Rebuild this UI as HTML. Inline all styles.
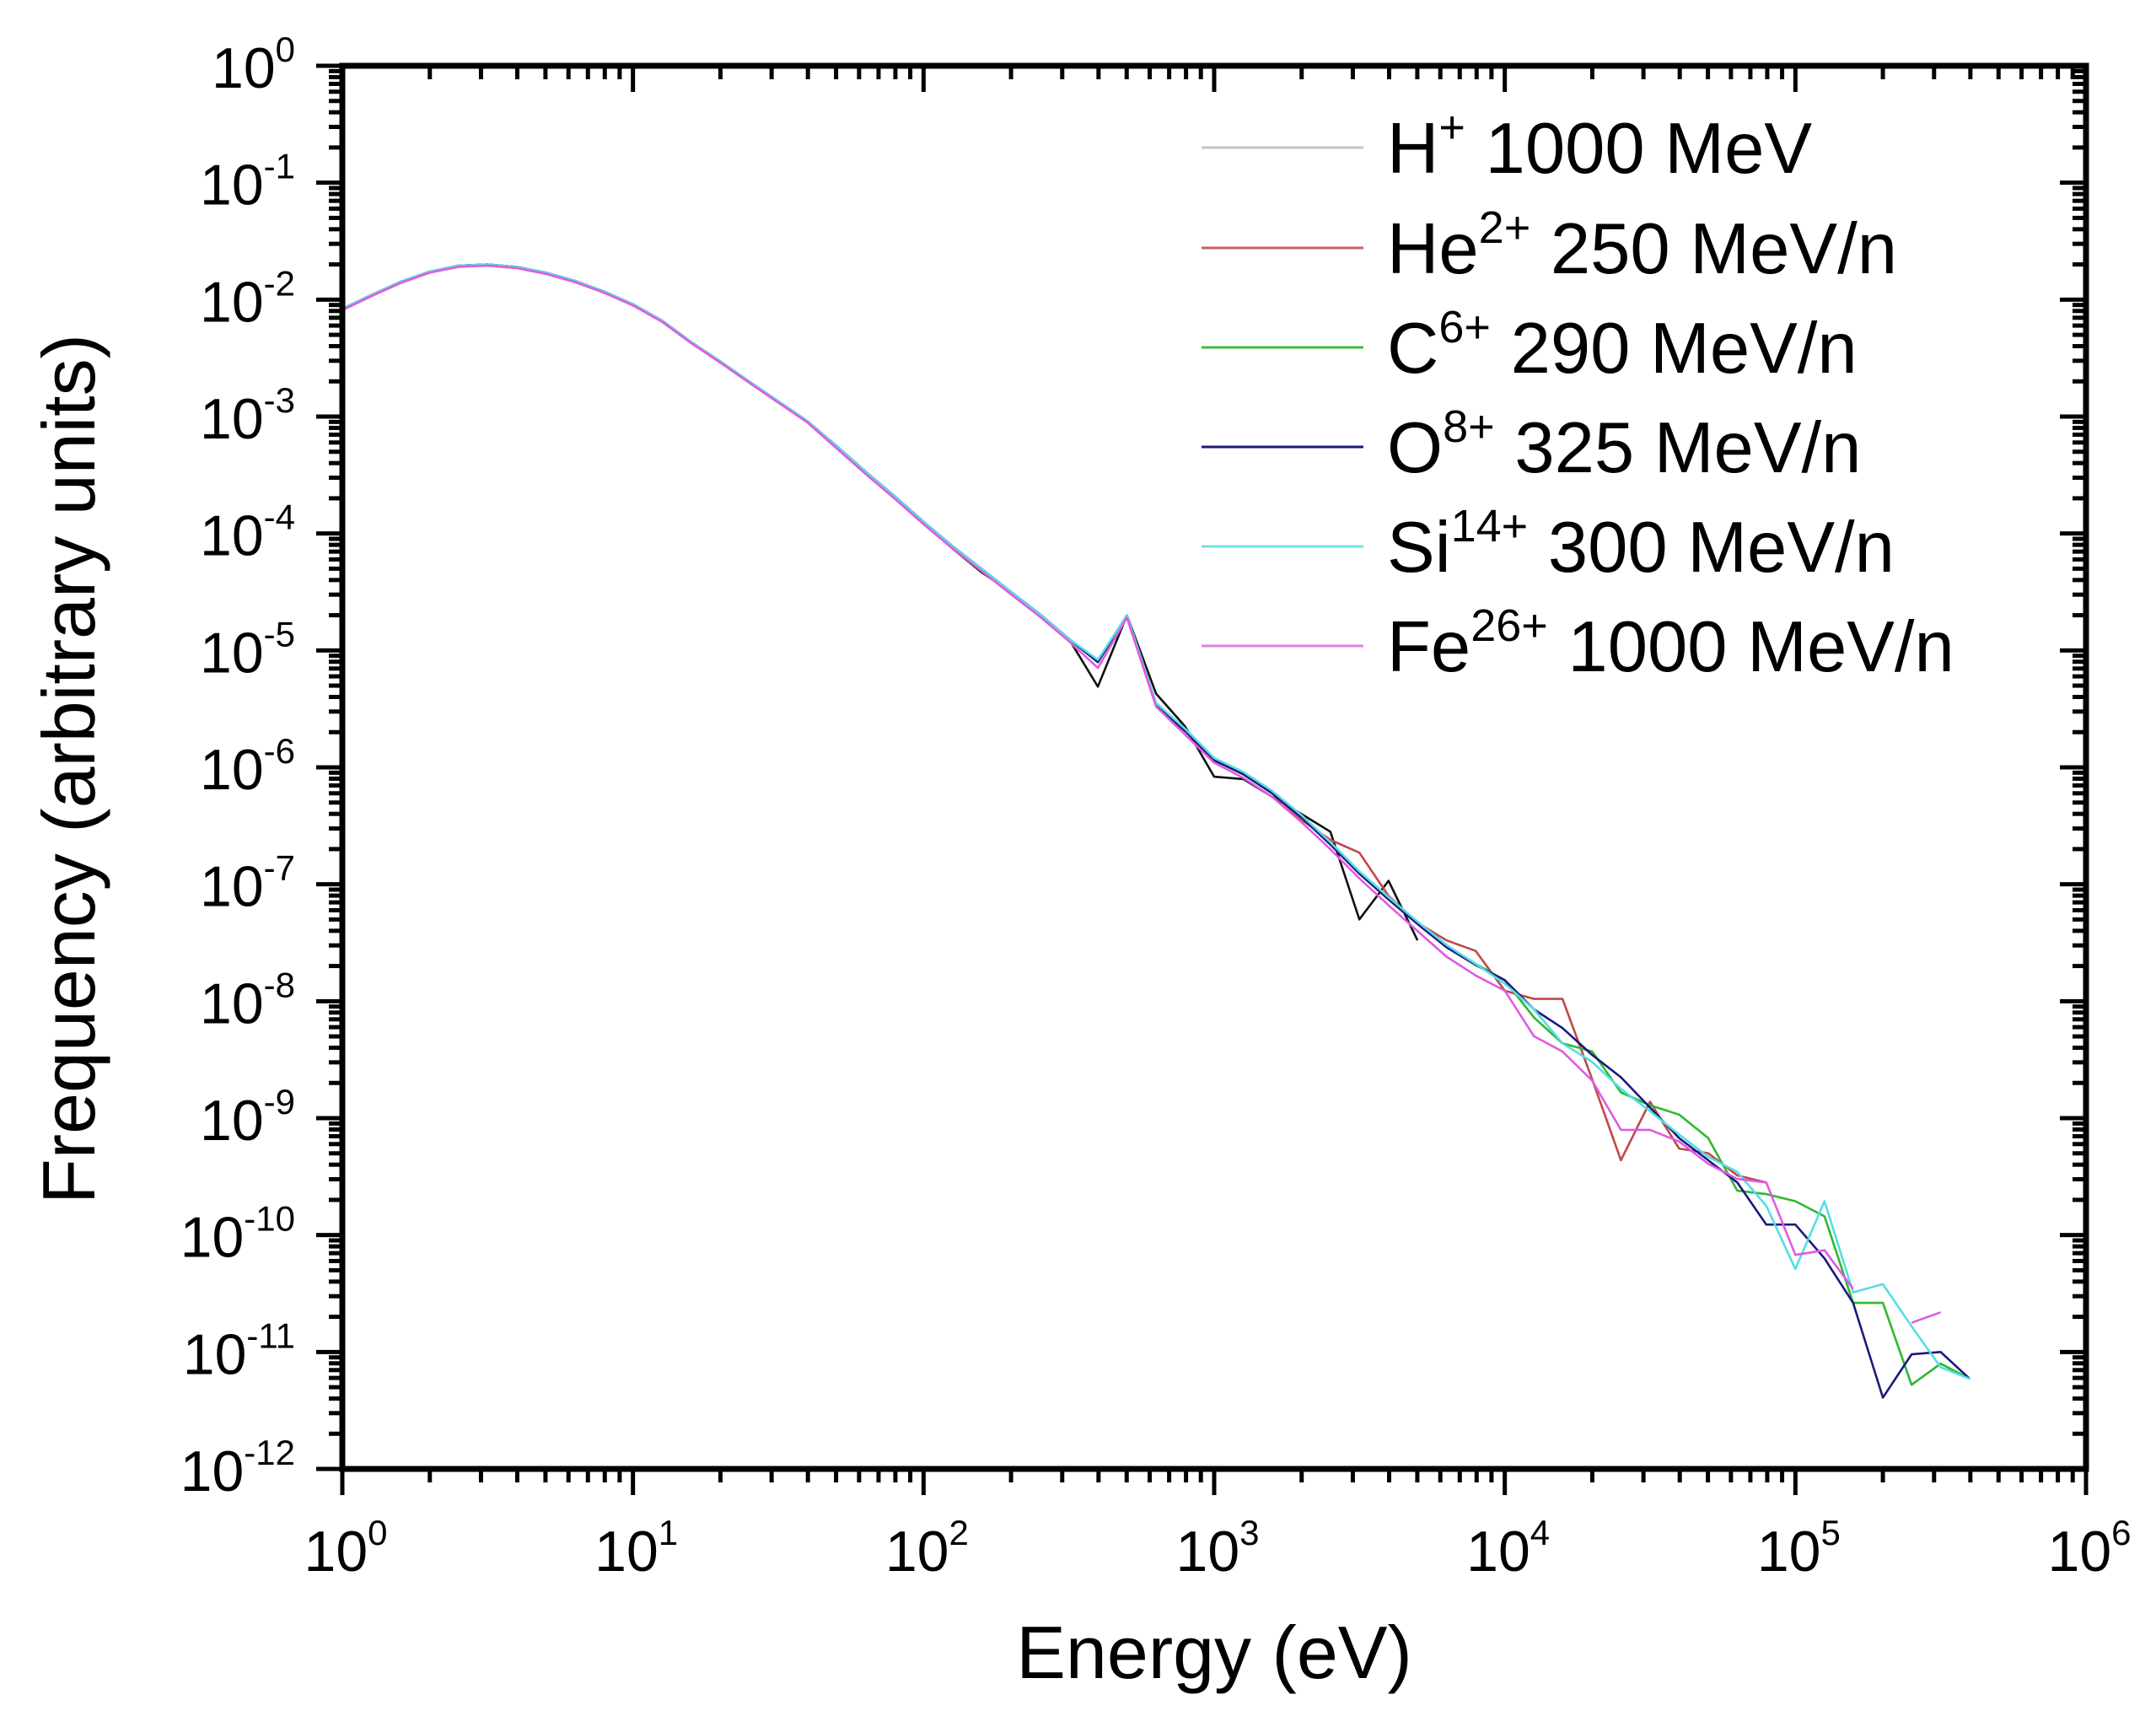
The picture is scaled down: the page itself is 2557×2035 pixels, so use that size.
<!DOCTYPE html>
<html><head><meta charset="utf-8"><style>
html,body{margin:0;padding:0;background:#fff;}
svg{display:block;font-family:"Liberation Sans",Arial,sans-serif;}
</style></head><body>
<svg id="chart" width="2557" height="2035" viewBox="0 0 2557 2035" xmlns="http://www.w3.org/2000/svg">
<rect width="2557" height="2035" fill="#fff"/>
<g id="series-layer"></g>
<g id="axes-layer"></g>
<g id="legend"></g>
<text x="1440" y="1990" font-size="88" text-anchor="middle" fill="#000">Energy (eV)</text>
<text transform="translate(112,912) rotate(-90)" font-size="88" text-anchor="middle" fill="#000">Frequency (arbitrary units)</text>
</svg>
<script>
const energies = [1,1.26,1.58,2,2.51,3.16,3.98,5.01,6.31,7.94,10,12.6,15.8,20,25.1,31.6,39.8,50.1,63.1,79.4,100,126,158,200,251,316,398,501,631,794,1000,1260,1580,2000,2510,3160,3980,5010,6310,7940,10000,12600,15800,20000,25100,31600,39800,50100,63100,79400,100000,126000,158000,200000,251000,316000,398000];
const logH = [-2.08,-1.96,-1.85,-1.76,-1.71,-1.70,-1.72,-1.77,-1.84,-1.93,-2.04,-2.18,-2.36,-2.53,-2.70,-2.87,-3.04,-3.25,-3.47,-3.68,-3.90,-4.13,-4.33,-4.50,-4.69,-4.90,-5.31,-4.70,-5.37,-5.65,-6.08,-6.10,-6.25,-6.40,-6.55,-7.30,-6.97,-7.48];
const logHe = [-2.08,-1.96,-1.85,-1.76,-1.71,-1.70,-1.72,-1.77,-1.84,-1.93,-2.04,-2.18,-2.36,-2.53,-2.70,-2.87,-3.04,-3.25,-3.47,-3.68,-3.90,-4.11,-4.30,-4.50,-4.69,-4.90,-5.10,-4.71,-5.45,-5.68,-5.93,-6.06,-6.22,-6.45,-6.62,-6.73,-7.10,-7.33,-7.48,-7.57,-7.91,-7.98,-7.98,-8.67,-9.36,-8.86,-9.26,-9.30,-9.49,-9.55];
const logC = [-2.08,-1.96,-1.85,-1.76,-1.71,-1.70,-1.72,-1.77,-1.84,-1.93,-2.04,-2.18,-2.36,-2.53,-2.70,-2.87,-3.04,-3.25,-3.47,-3.68,-3.90,-4.11,-4.30,-4.50,-4.69,-4.90,-5.10,-4.70,-5.46,-5.68,-5.93,-6.05,-6.21,-6.42,-6.65,-6.90,-7.12,-7.33,-7.53,-7.68,-7.82,-8.14,-8.36,-8.43,-8.78,-8.89,-8.97,-9.17,-9.62,-9.65,-9.71,-9.84,-10.58,-10.58,-11.28,-11.10,-11.23];
const logO = [-2.08,-1.96,-1.85,-1.76,-1.71,-1.70,-1.72,-1.77,-1.84,-1.93,-2.04,-2.18,-2.36,-2.53,-2.70,-2.87,-3.04,-3.25,-3.47,-3.68,-3.90,-4.11,-4.30,-4.50,-4.69,-4.90,-5.10,-4.70,-5.47,-5.69,-5.94,-6.06,-6.22,-6.43,-6.66,-6.91,-7.13,-7.34,-7.54,-7.69,-7.82,-8.07,-8.23,-8.46,-8.65,-8.91,-9.17,-9.36,-9.55,-9.91,-9.91,-10.20,-10.58,-11.39,-11.02,-11.00,-11.23];
const logSi = [-2.08,-1.96,-1.85,-1.76,-1.71,-1.70,-1.72,-1.77,-1.84,-1.93,-2.04,-2.18,-2.36,-2.53,-2.70,-2.87,-3.04,-3.25,-3.47,-3.68,-3.90,-4.11,-4.30,-4.50,-4.69,-4.90,-5.08,-4.70,-5.45,-5.67,-5.92,-6.04,-6.20,-6.41,-6.64,-6.89,-7.11,-7.32,-7.52,-7.68,-7.85,-8.07,-8.36,-8.52,-8.75,-8.94,-9.14,-9.33,-9.46,-9.75,-10.29,-9.71,-10.49,-10.42,-10.78,-11.13,-11.23];
const logFe = [-2.09,-1.97,-1.86,-1.77,-1.72,-1.71,-1.73,-1.78,-1.85,-1.94,-2.05,-2.19,-2.37,-2.54,-2.71,-2.88,-3.05,-3.27,-3.49,-3.70,-3.92,-4.13,-4.32,-4.52,-4.71,-4.92,-5.15,-4.72,-5.48,-5.72,-5.96,-6.09,-6.25,-6.47,-6.70,-6.95,-7.18,-7.40,-7.62,-7.78,-7.91,-8.30,-8.43,-8.68,-9.10,-9.10,-9.20,-9.39,-9.52,-9.55,-10.17,-10.13,-10.46,null,-10.75,-10.66];
const seriesNames = ["H+ 1000 MeV","He2+ 250 MeV/n","C6+ 290 MeV/n","O8+ 325 MeV/n","Si14+ 300 MeV/n","Fe26+ 1000 MeV/n"];
const xTickExps = [0,1,2,3,4,5,6];
const yTickExps = [0,-1,-2,-3,-4,-5,-6,-7,-8,-9,-10,-11,-12];

const L=406,R=2474,T=78,B=1742;
const xMin=0,xMax=6,yMin=-12,yMax=0;
const xs = v => L + (Math.log10(v)-xMin)/(xMax-xMin)*(R-L);
const xsLog = e => L + (e-xMin)/(xMax-xMin)*(R-L);
const ys = e => B - (e-yMin)/(yMax-yMin)*(B-T);
const NS="http://www.w3.org/2000/svg";
function mk(tag,attrs,parent){const el=document.createElementNS(NS,tag);for(const k in attrs)el.setAttribute(k,attrs[k]);parent.appendChild(el);return el;}

const seriesData=[logH,logHe,logC,logO,logSi,logFe];
const colors=["#111111","#c04848","#2fb82f","#1a1a7c","#55dde6","#e05ae0"];
const legendColors=["#c4c4c4","#c86060","#40b840","#1a1a7c","#70e0e8","#e080e0"];
const slugs=["h-plus","he-2plus","c-6plus","o-8plus","si-14plus","fe-26plus"];
const sl=document.getElementById('series-layer');
seriesData.forEach((arr,i)=>{
  let d="",pen=false;
  arr.forEach((v,k)=>{
    if(v===null||v===undefined){pen=false;return;}
    d+=(pen?"L":"M")+xs(energies[k]).toFixed(1)+" "+ys(v).toFixed(1)+" ";pen=true;
  });
  const p=mk('path',{d:d,fill:"none",stroke:colors[i],"stroke-width":2.6,"stroke-linejoin":"round"},sl);
  
  
});

const ax=document.getElementById('axes-layer');
const frame=mk('rect',{x:L,y:T,width:R-L,height:B-T,fill:"none",stroke:"#000","stroke-width":7},ax);


// x ticks
for(let e=0;e<6;e++){
  for(let m=2;m<=9;m++){
    const x=xsLog(e+Math.log10(m));
    const t1=mk('line',{x1:x,y1:B,x2:x,y2:B+16,stroke:"#000","stroke-width":5},ax);
    
    
    const t2=mk('line',{x1:x,y1:T,x2:x,y2:T+16,stroke:"#000","stroke-width":5},ax);
    
    
  }
}
xTickExps.forEach(e=>{
  const x=xsLog(e);
  const t1=mk('line',{x1:x,y1:B,x2:x,y2:B+31,stroke:"#000","stroke-width":5},ax);
  
  
  const t2=mk('line',{x1:x,y1:T,x2:x,y2:T+31,stroke:"#000","stroke-width":5},ax);
  
  
  const tx=mk('text',{x:x+4,y:1863,"font-size":68,"text-anchor":"middle",fill:"#000"},ax);
  
  
  const a=document.createElementNS(NS,'tspan');a.textContent="10";tx.appendChild(a);
  const b=document.createElementNS(NS,'tspan');b.setAttribute('dy','-31');b.setAttribute('font-size','42');b.textContent=String(e);tx.appendChild(b);
});
// y ticks
for(let e=-12;e<0;e++){
  for(let m=2;m<=9;m++){
    const y=ys(e+Math.log10(m));
    const t1=mk('line',{x1:L,y1:y,x2:L-16,y2:y,stroke:"#000","stroke-width":5},ax);
    
    
    const t2=mk('line',{x1:R,y1:y,x2:R-16,y2:y,stroke:"#000","stroke-width":5},ax);
    
    
  }
}
yTickExps.forEach(e=>{
  const y=ys(e);
  const t1=mk('line',{x1:L,y1:y,x2:L-31,y2:y,stroke:"#000","stroke-width":5},ax);
  
  
  const t2=mk('line',{x1:R,y1:y,x2:R-31,y2:y,stroke:"#000","stroke-width":5},ax);
  
  
  const tx=mk('text',{x:350,y:y+26,"font-size":68,"text-anchor":"end",fill:"#000"},ax);
  
  
  const a=document.createElementNS(NS,'tspan');a.textContent="10";tx.appendChild(a);
  const b=document.createElementNS(NS,'tspan');b.setAttribute('dy','-31');b.setAttribute('font-size','42');b.textContent=String(e);tx.appendChild(b);
});

// legend
const lg=document.getElementById('legend');
const legendBase=["H","He","C","O","Si","Fe"];
const legendSup=["+","2+","6+","8+","14+","26+"];
const legendRest=[" 1000 MeV"," 250 MeV/n"," 290 MeV/n"," 325 MeV/n"," 300 MeV/n"," 1000 MeV/n"];
const rowY=[175,294,412,530,648,766];
legendBase.forEach((b,i)=>{
  const g=mk('g',{},lg);
  
  
  const ln=mk('line',{x1:1425,y1:rowY[i],x2:1617,y2:rowY[i],stroke:legendColors[i],"stroke-width":3},g);
  
  
  const tx=mk('text',{x:1645,y:rowY[i]+30,"font-size":85,fill:"#000"},g);
  
  
  const t1=document.createElementNS(NS,'tspan');t1.textContent=b;tx.appendChild(t1);
  const t2=document.createElementNS(NS,'tspan');t2.setAttribute('dy','-36');t2.setAttribute('font-size','54');t2.textContent=legendSup[i];tx.appendChild(t2);
  const t3=document.createElementNS(NS,'tspan');t3.setAttribute('dy','36');t3.textContent=legendRest[i];tx.appendChild(t3);
});
</script>
</body></html>
